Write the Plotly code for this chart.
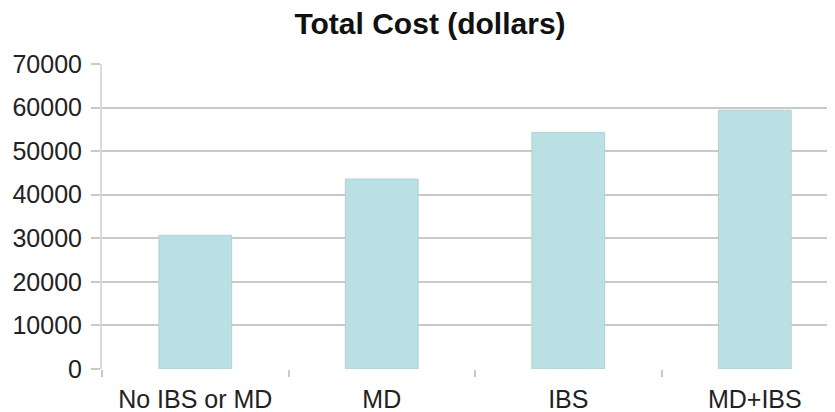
import plotly.graph_objects as go

categories = ["No IBS or MD", "MD", "IBS", "MD+IBS"]
total_cost = [30700, 43600, 54300, 59400]
y_ticks = [0, 10000, 20000, 30000, 40000, 50000, 60000, 70000]

# page body has an 8px default margin, so the figure is sized 8px smaller
W, H = 827, 404

fig = go.Figure(
    go.Bar(
        x=categories,
        y=total_cost,
        width=0.39,
        marker=dict(color="#bae0e3", line=dict(color="#b3d0d3", width=1)),
    )
)

fig.update_layout(
    width=W,
    height=H,
    margin=dict(l=94, r=0, t=56, b=43),
    paper_bgcolor="white",
    plot_bgcolor="white",
    showlegend=False,
    font=dict(family="Liberation Sans, Arial, sans-serif", color="#222222"),
    title=dict(
        text="<b>Total Cost (dollars)</b>",
        font=dict(size=30, color="#111111"),
        x=422 / W,
        xanchor="center",
        xref="container",
        y=1 - 15 / H,
        yanchor="middle",
        automargin=False,
    ),
)

fig.update_xaxes(
    type="category",
    range=[-0.5, 3.43],
    tickson="boundaries",
    ticks="outside",
    ticklen=7,
    tickwidth=1.5,
    tickcolor="#c9c9c9",
    showgrid=False,
    showline=False,
    tickfont=dict(size=25),
    ticklabelstandoff=13,
    automargin=False,
)

fig.update_yaxes(
    range=[0, 70000],
    tickvals=y_ticks,
    ticktext=[str(v) for v in y_ticks],
    showgrid=True,
    gridcolor="#c9c9c9",
    gridwidth=1.5,
    showline=True,
    linecolor="#dadada",
    linewidth=2,
    ticks="outside",
    ticklen=9,
    tickwidth=1.5,
    tickcolor="#c9c9c9",
    tickfont=dict(size=25),
    zeroline=False,
    ticklabelstandoff=4,
    automargin=False,
)

fig.write_html("out.html")
